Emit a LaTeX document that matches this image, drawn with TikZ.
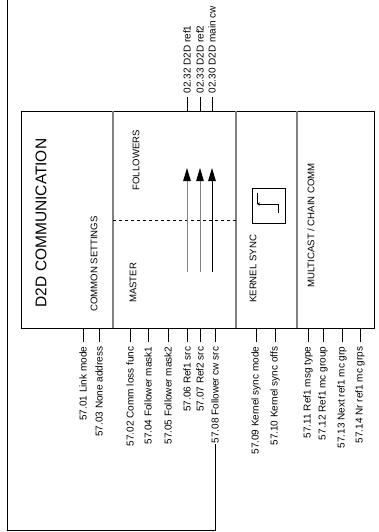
\documentclass[tikz,border=0pt]{standalone}
\usepackage{fontspec}
\setmainfont{Liberation Sans}
\usetikzlibrary{arrows.meta}
\definecolor{divgray}{RGB}{128,128,128}
\begin{document}
\begin{tikzpicture}[x=1pt,y=-1pt,
  lbl/.style={rotate=90,font=\fontsize{10}{12}\selectfont,inner sep=0.5pt},
  inlbl/.style={rotate=90,font=\fontsize{9.6}{11}\selectfont,inner sep=0pt},
  tickline/.style={line width=0.8pt,black},
  divider/.style={draw=divgray,line width=1.3pt},
  flowarrow/.style={line width=1pt,-{Triangle[length=13pt,width=7.5pt,color=black]}},
  wire/.style={line width=0.9pt,black}]
\useasboundingbox (0,0) rectangle (379,532);

% main box
\node[draw,line width=1pt,minimum width=353pt,minimum height=217pt,anchor=north west,inner sep=0pt] (box) at (21,111) {};

% dividers
\coordinate (d1t) at (113,111); \coordinate (d1b) at (113,328);
\coordinate (d2t) at (236,111); \coordinate (d2b) at (236,328);
\coordinate (d3t) at (297,111); \coordinate (d3b) at (297,328);
\draw[divider] (d1t) -- (d1b);
\draw[divider] (d2t) -- (d2b);
\draw[divider] (d3t) -- (d3b);
\draw[line width=0.9pt,dashed] (113,220.5) coordinate (ds1) -- (236,220.5) coordinate (ds2);

% title and section labels
\node[rotate=90,font=\fontsize{15.5}{18}\selectfont,inner sep=0pt] (title) at (41,223) {D2D COMMUNICATION};
\node[inlbl,anchor=west] (common) at (94,312) {COMMON SETTINGS};
\node[inlbl,anchor=west] (master) at (133,303) {MASTER};
\node[inlbl,anchor=east] (followers) at (136,130) {FOLLOWERS};
\node[inlbl,anchor=west] (kernel) at (253,303) {KERNEL SYNC};
\node[inlbl,anchor=west] (multi) at (311,288) {MULTICAST / CHAIN COMM};

% arrows master -> followers
\coordinate (a1s) at (187,272); \coordinate (a1e) at (187,168);
\coordinate (a2s) at (200,272); \coordinate (a2e) at (200,168);
\coordinate (a3s) at (212,272); \coordinate (a3e) at (212,168);
\draw[flowarrow,draw=divgray] (a1s) -- (a1e);
\draw[flowarrow,draw=divgray] (a2s) -- (a2e);
\draw[flowarrow,draw=black] (a3s) -- (a3e);

% kernel sync symbol
\node[draw,line width=0.9pt,minimum width=33pt,minimum height=35pt,inner sep=0pt] (ks) at (268.5,205.5) {};
\coordinate (k1) at (257,193); \coordinate (k2) at (257,204);
\coordinate (k3) at (278,204); \coordinate (k4) at (278,213);
\draw[line width=0.8pt] (k1) -- (k2);
\draw[line width=0.8pt,-{Stealth[length=3pt,width=3pt]}] (k4) -- (k3) -- (k2);

% top outputs
\foreach \x/\t/\n in {187/02.32 D2D ref1/o1, 200/02.33 D2D ref2/o2, 212/02.30 D2D main cw/o3}{
  \coordinate (\n t) at (\x,97);
  \coordinate (\n b) at (\x,111);
  \draw[tickline] (\n t) -- (\n b);
  \node[lbl,anchor=west] (\n) at (\x,94) {\t};
}

% bottom parameters
\foreach \x/\t/\n in {83/57.01 Link mode/l01, 99/57.03 None address/l03,
  130/57.02 Comm loss func/l02, 148/57.04 Follower mask1/l04,
  168/57.05 Follower mask2/l05, 187/57.06 Ref1 src/l06,
  200/57.07 Ref2 src/l07, 215/57.08 Follower cw src/l08,
  256/57.09 Kernel sync mode/l09, 275/57.10 Kernel sync offs/l10,
  308/57.11 Ref1 msg type/l11, 323/57.12 Ref1 mc group/l12,
  342/57.13 Next ref1 mc grp/l13, 360/57.14 Nr ref1 mc grps/l14}{
  \coordinate (\n t) at (\x,328);
  \coordinate (\n b) at (\x,342);
  \draw[tickline] (\n t) -- (\n b);
  \node[lbl,anchor=east] (\n) at (\x,346) {\t};
}

% feedback loop
\coordinate (c1) at (7,530.5);
\coordinate (c2) at (7,0);
\draw[wire] (l08.west) |- (c1) -- (c2);
\end{tikzpicture}
\end{document}
